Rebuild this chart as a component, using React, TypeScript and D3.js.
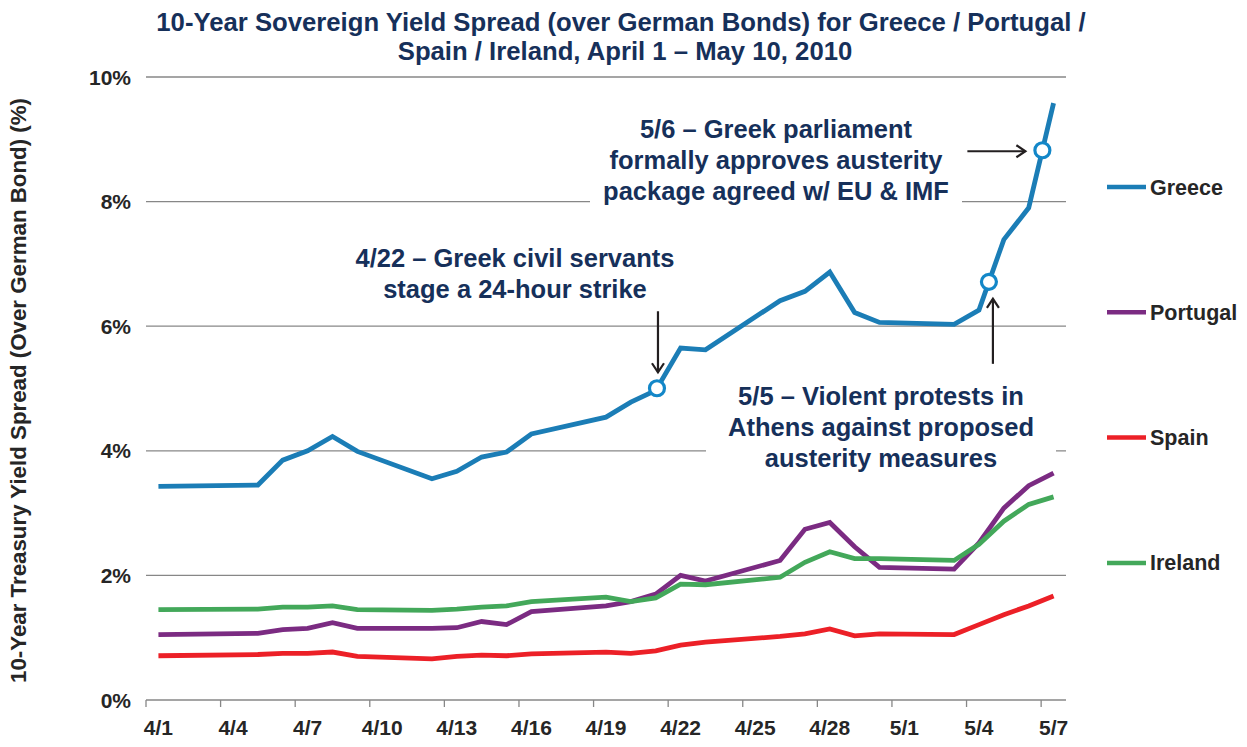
import React from 'react';
import * as d3 from 'd3';

// ---- Data ----
const dates = ["4/1","4/5","4/6","4/7","4/8","4/9","4/12","4/13","4/14","4/15","4/16","4/19","4/20","4/21","4/22","4/23","4/26","4/27","4/28","4/29","4/30","5/3","5/4","5/5","5/6","5/7"];
const greece = [3.43,3.45,3.85,4.00,4.23,3.99,3.55,3.67,3.90,3.98,4.27,4.54,4.78,4.97,5.65,5.62,6.41,6.56,6.87,6.22,6.06,6.03,6.26,7.39,7.90,9.58];
const portugal = [1.05,1.07,1.13,1.15,1.24,1.15,1.15,1.16,1.26,1.21,1.42,1.51,1.58,1.70,2.00,1.91,2.24,2.74,2.85,2.46,2.13,2.10,2.52,3.08,3.44,3.64];
const spain = [0.71,0.73,0.75,0.75,0.77,0.70,0.66,0.70,0.72,0.71,0.74,0.77,0.75,0.79,0.88,0.93,1.02,1.06,1.14,1.03,1.06,1.05,1.21,1.37,1.51,1.67];
const ireland = [1.45,1.46,1.49,1.49,1.51,1.45,1.44,1.46,1.49,1.51,1.58,1.65,1.58,1.64,1.86,1.85,1.97,2.21,2.38,2.27,2.27,2.24,2.50,2.87,3.14,3.26];
const seriesNames = ["Greece","Portugal","Spain","Ireland"];
const seriesColors = ["#1B7DB6","#7B2B82","#EC2027","#43A85A"];
const xTickLabels = ["4/1","4/4","4/7","4/10","4/13","4/16","4/19","4/22","4/25","4/28","5/1","5/4","5/7"];
const yTicks = [0,2,4,6,8,10];
// event markers on the Greece line: date of nearest trading day + fraction of a day
const events = [
  { date: "4/21", offset: 0.05 },
  { date: "5/4", offset: 0.4 },
  { date: "5/6", offset: 0.55 },
];

const DAY = 86400000;
const parse = (s: string) => {
  const [m, d] = s.split('/').map(Number);
  return new Date(Date.UTC(2010, m - 1, d));
};

const W = 1247, H = 747;
const FONT = "'Liberation Sans', Arial, Helvetica, sans-serif";
const NAVY = "#16305A";
const DARK = "#262626";
const GRID = "#878787";

export default function App() {
  const x = d3.scaleUtc()
    .domain([new Date(Date.UTC(2010, 3, 1)), new Date(Date.UTC(2010, 4, 8))])
    .range([146, 1066]);
  const y = d3.scaleLinear().domain([0, 10]).range([700, 77]);

  const times = dates.map(d => parse(d).getTime() + DAY / 2);
  const allSeries = [greece, portugal, spain, ireland];
  const line = d3.line<[number, number]>()
    .x(d => x(new Date(d[0])))
    .y(d => y(d[1]));

  const greeceAt = (t: number) => {
    for (let i = 0; i < times.length - 1; i++) {
      if (t >= times[i] && t <= times[i + 1]) {
        const f = (t - times[i]) / (times[i + 1] - times[i]);
        return greece[i] + f * (greece[i + 1] - greece[i]);
      }
    }
    return greece[greece.length - 1];
  };
  const markers = events.map(e => {
    const t = parse(e.date).getTime() + DAY / 2 + e.offset * DAY;
    return { cx: x(new Date(t)), cy: y(greeceAt(t)) };
  });

  const tickDates = xTickLabels.map(parse);
  const [m1, m2, m3] = markers;

  const arrowHead = (tx: number, ty: number, dir: 'right' | 'down' | 'up') => {
    const a = 9, b = 6;
    if (dir === 'right') return `M${tx - a},${ty - b}L${tx},${ty}L${tx - a},${ty + b}`;
    if (dir === 'down') return `M${tx - b},${ty - a}L${tx},${ty}L${tx + b},${ty - a}`;
    return `M${tx - b},${ty + a}L${tx},${ty}L${tx + b},${ty + a}`;
  };

  const a1 = { x1: m3.cx - 75, x2: m3.cx - 17, y: m3.cy + 1 };
  const a2 = { x: m1.cx + 1, y1: m1.cy - 77, y2: m1.cy - 16 };
  const a3 = { x: m2.cx + 4, y1: m2.cy + 82, y2: m2.cy + 17 };

  return (
    <svg width={W} height={H} style={{ position: 'absolute', left: 0, top: 0, background: '#fff' }} fontFamily={FONT}>
      {/* Title */}
      <text x={621} y={31} textAnchor="middle" fontSize={25.7} fontWeight="bold" fill={NAVY}>
        10-Year Sovereign Yield Spread (over German Bonds) for Greece / Portugal /
      </text>
      <text x={625} y={60} textAnchor="middle" fontSize={25.7} fontWeight="bold" fill={NAVY}>
        Spain / Ireland, April 1 – May 10, 2010
      </text>

      {/* Gridlines */}
      {yTicks.filter(v => v > 0).map(v => (
        <line key={v} x1={146} x2={1066} y1={y(v)} y2={y(v)} stroke={GRID} strokeWidth={1.3} />
      ))}
      {/* X axis */}
      <line x1={146} x2={1066} y1={y(0)} y2={y(0)} stroke={GRID} strokeWidth={1.3} />
      {tickDates.map((d, i) => (
        <line key={i} x1={x(d)} x2={x(d)} y1={y(0)} y2={y(0) + 7} stroke={GRID} strokeWidth={1.3} />
      ))}
      {tickDates.map((d, i) => (
        <text key={i} x={x(new Date(d.getTime() + DAY / 2))} y={735} textAnchor="middle"
          fontSize={21} fontWeight="bold" fill={DARK}>{xTickLabels[i]}</text>
      ))}
      {/* Y axis labels */}
      {yTicks.map(v => (
        <text key={v} x={131} y={y(v) + 7.5} textAnchor="end" fontSize={21} fontWeight="bold" fill={DARK}>{v}%</text>
      ))}
      <text transform={`translate(26,${(y(0) + y(10)) / 2 + 2}) rotate(-90)`} textAnchor="middle"
        fontSize={22.3} fontWeight="bold" fill={DARK}>
        10-Year Treasury Yield Spread (Over German Bond) (%)
      </text>

      {/* Annotation background boxes */}
      <rect x={590} y={112} width={372} height={95} fill="#fff" />
      <rect x={706} y={380} width={350} height={92} fill="#fff" />

      {/* Series */}
      {allSeries.map((vals, si) => (
        <path key={si} d={line(vals.map((v, i) => [times[i], v] as [number, number])) || ''}
          fill="none" stroke={seriesColors[si]} strokeWidth={4.8} strokeLinejoin="miter" />
      ))}

      {/* Markers */}
      {markers.map((m, i) => (
        <circle key={i} cx={m.cx} cy={m.cy} r={7.5} fill="#fff" stroke="#1387C8" strokeWidth={3.2} />
      ))}

      {/* Annotations */}
      <g fontSize={25.5} fontWeight="bold" fill={NAVY} textAnchor="middle">
        <text x={776} y={138}>5/6 – Greek parliament</text>
        <text x={776} y={169}>formally approves austerity</text>
        <text x={776} y={200}>package agreed w/ EU &amp; IMF</text>
        <text x={515} y={267}>4/22 – Greek civil servants</text>
        <text x={515} y={298}>stage a 24-hour strike</text>
        <text x={881} y={405}>5/5 – Violent protests in</text>
        <text x={881} y={436}>Athens against proposed</text>
        <text x={881} y={467}>austerity measures</text>
      </g>

      {/* Arrows */}
      <g stroke="#231F20" strokeWidth={2.2} fill="none">
        <line x1={a1.x1} x2={a1.x2} y1={a1.y} y2={a1.y} />
        <path d={arrowHead(a1.x2, a1.y, 'right')} />
        <line x1={a2.x} x2={a2.x} y1={a2.y1} y2={a2.y2} />
        <path d={arrowHead(a2.x, a2.y2, 'down')} />
        <line x1={a3.x} x2={a3.x} y1={a3.y1} y2={a3.y2} />
        <path d={arrowHead(a3.x, a3.y2, 'up')} />
      </g>

      {/* Legend */}
      {seriesNames.map((n, i) => {
        const ly = 187 + i * 125.3;
        return (
          <g key={n}>
            <line x1={1107} x2={1146} y1={ly} y2={ly} stroke={seriesColors[i]} strokeWidth={4.5} />
            <text x={1150} y={ly + 7.5} fontSize={21.5} fontWeight="bold" fill={DARK}>{n}</text>
          </g>
        );
      })}
    </svg>
  );
}
